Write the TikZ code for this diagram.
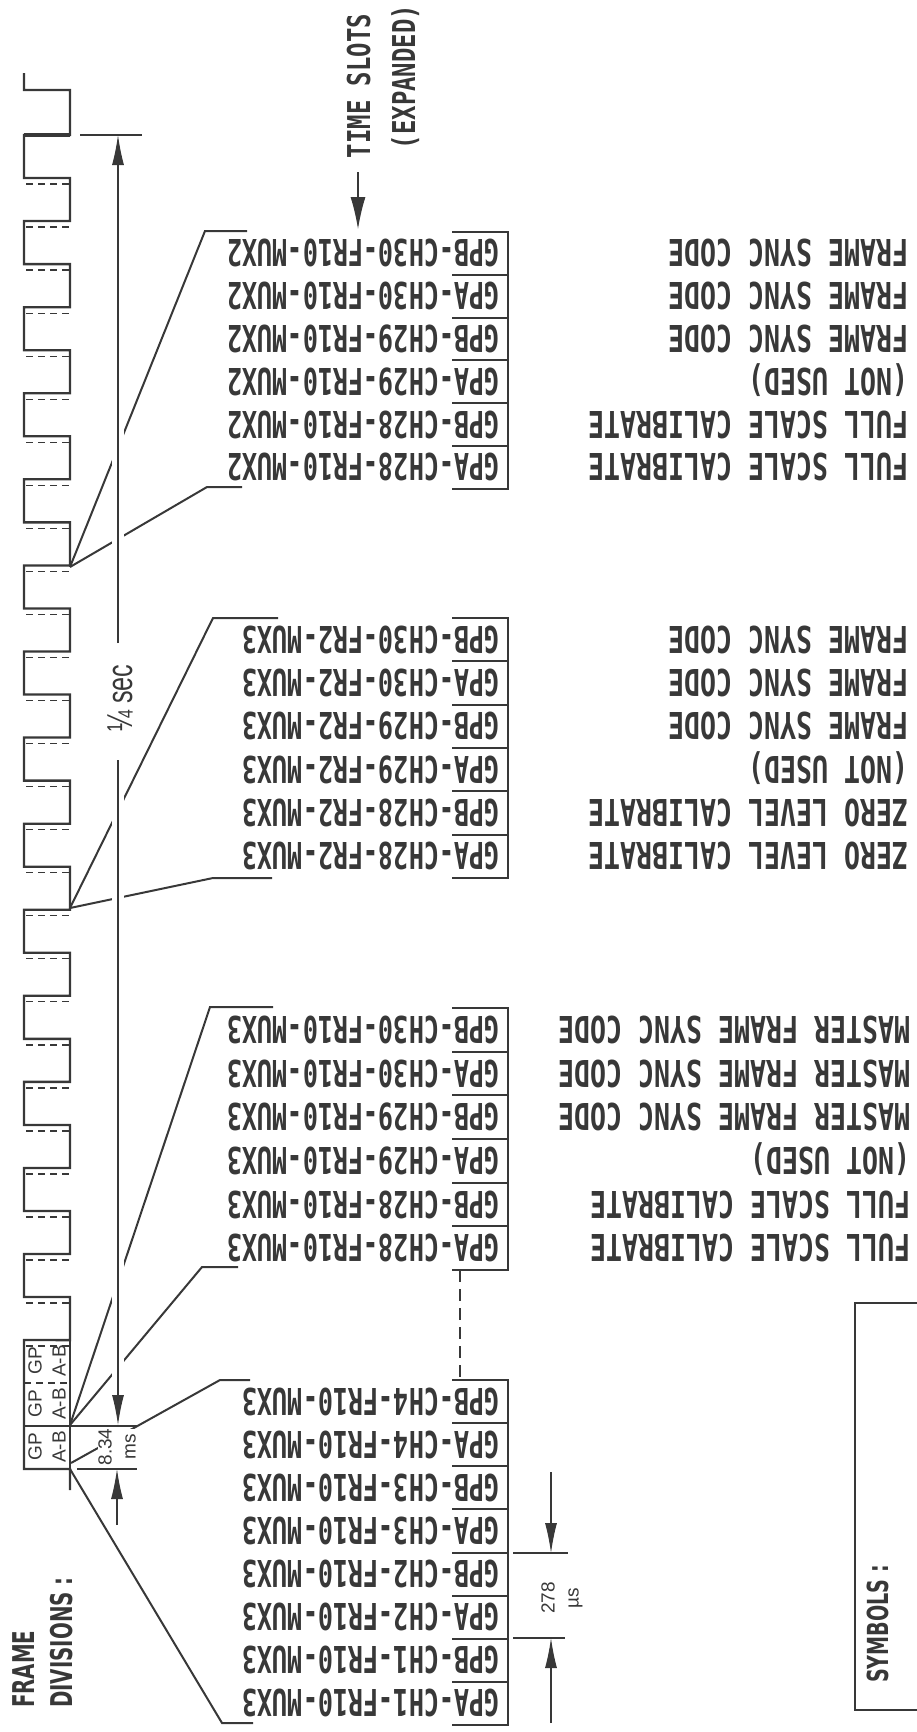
\documentclass[tikz,border=0pt]{standalone}
\usepackage{fontspec}
\usetikzlibrary{arrows.meta,calc}
\newfontfamily\slotf{DejaVu Sans Mono}[FakeStretch=0.68]
\newfontfamily\descf{DejaVu Sans Mono}[FakeStretch=0.72]
\newfontfamily\labf{DejaVu Sans Mono}[FakeStretch=0.76]
\newfontfamily\headf{DejaVu Sans}[FakeStretch=0.66]
\newfontfamily\secf{Liberation Sans}[FakeStretch=0.7]
\newfontfamily\smallf{Liberation Sans}
\definecolor{ink}{HTML}{383838}
\tikzset{
  wave/.style={draw=ink, line width=2.3pt, line join=miter},
  wavedash/.style={draw=ink, line width=1.3pt, dash pattern=on 7pt off 5pt},
  lead/.style={draw=ink, line width=2pt},
  dim/.style={draw=ink, line width=1.1pt},
  dimarrow/.style={dim, -{Latex[length=30pt,width=12pt]}},
  boxline/.style={draw=ink, line width=2pt},
  slot/.style={rotate=180, anchor=base west, inner sep=0pt, text=ink, font=\fontsize{37}{40}\slotf\bfseries},
  desc/.style={rotate=180, anchor=base west, inner sep=0pt, text=ink, font=\fontsize{37}{40}\descf\bfseries},
  vlab/.style={rotate=90, inner sep=0pt, text=ink, font=\fontsize{31.5}{34}\labf\bfseries},
  headlab/.style={rotate=90, anchor=base west, inner sep=0pt, text=ink, font=\fontsize{30}{32}\headf\bfseries},
  smalllab/.style={rotate=90, align=center, inner sep=1pt, text=ink, font=\fontsize{19}{24}\smallf},
}
\begin{document}
\begin{tikzpicture}[x=1pt,y=-1pt]
\useasboundingbox (0,0) rectangle (916,1732);

% ---------------- square wave ----------------
\draw[wave] (24,73) -- (24,90) -- (70,90) -- (70,135)
  \foreach \k [evaluate=\k as \ta using {135+43.04*\k},
               evaluate=\k as \tb using {135+43.04*(\k+1)},
               evaluate=\k as \xk using {24+46*mod(\k,2)}] in {0,...,27}
  { -- (\xk,\ta) -- (\xk,\tb) }
  -- (24,1340) -- (24,1469) -- (70,1469) -- (70,1490);
\draw[wave] (70,1340) -- (70,1469);
\draw[wave] (24,1426) -- (70,1426);
\draw[draw=ink, line width=4.5pt] (24,135) -- (70,135);
\foreach \k in {1,...,28}
  \draw[wavedash] (26,{135+43.04*\k+6}) -- (70,{135+43.04*\k+6});
\draw[wavedash] (24,1383) -- (70,1383);

% GP A-B boxes
\node[smalllab] (gp1) at (47,1447) {GP\\A-B};
\node[smalllab] (gp2) at (47,1404) {GP\\A-B};
\node[smalllab] (gp3) at (47,1361) {GP\\A-B};

% ---------------- junctions and group anchors ----------------
\coordinate (jA) at (70,567);
\coordinate (jC) at (70,908);
\coordinate (jE) at (70,1425);
\coordinate (jG) at (71,1463);
\coordinate (jH) at (70,1469);
\coordinate (g1t) at (205,231);  \coordinate (g1te) at (247,231);
\coordinate (g1b) at (207,487);  \coordinate (g1be) at (242,487);
\coordinate (g2t) at (213,618);  \coordinate (g2te) at (278,618);
\coordinate (g2b) at (213,878);  \coordinate (g2be) at (272,878);
\coordinate (g3t) at (210,1007); \coordinate (g3te) at (273,1007);
\coordinate (g3b) at (202,1267); \coordinate (g3be) at (238,1267);
\coordinate (g4t) at (220,1380); \coordinate (g4te) at (250,1380);
\coordinate (g4b) at (222,1723); \coordinate (g4be) at (253,1723);

% leaders
\draw[lead] (jA) -- (g1t) -- (g1te);
\draw[lead] (jA) -- (g1b) -- (g1be);
\draw[lead] (jC) -- (g2t) -- (g2te);
\draw[lead] (jC) -- (g2b) -- (g2be);
\draw[lead] (jE) -- (g3t) -- (g3te);
\draw[lead] (jE) -- (g3b) -- (g3be);
\draw[lead] (jG) -- (g4t) -- (g4te);
\draw[lead] (jH) -- (g4b) -- (g4be);

% gaps where leaders cross the 1/4 sec line
\draw[white, line width=12pt] (118,170) -- (118,1400);

% ---------------- 1/4 sec dimension ----------------
\coordinate (qtop) at (118,135);
\coordinate (qbot) at (118,1425);
\coordinate (qa) at (118,643);
\coordinate (qb) at (118,760);
\draw[dimarrow] (qa) -- (qtop);
\draw[dimarrow] (qb) -- (qbot);
\node[rotate=90, anchor=base, inner sep=0pt, text=ink, font=\fontsize{36}{40}\secf] (qsec) at (132,698) {¼ sec};
\draw[dim] (80,135) -- (142,135);

% 8.34 ms dimension
\node[smalllab, fill=white, inner sep=0pt] (ms) at (117,1447) {8.34\\ms};
\draw[dim] (70,1426) -- (138,1426);
\draw[dim] (77,1469) -- (137,1469);
\coordinate (mslow) at (117,1525);
\coordinate (mstip) at (117,1469);
\draw[dimarrow] (mslow) -- (mstip);

% ---------------- TIME SLOTS label ----------------
\node[vlab, anchor=base] (ts) at (370,86) {TIME SLOTS};
\node[vlab, anchor=base] (tsx) at (415,77) {(EXPANDED)};
\coordinate (tsa) at (358,172);
\coordinate (tsb) at (358,229);
\draw[dim, -{Latex[length=32pt,width=15pt]}] (tsa) -- (tsb);

% ---------------- slot groups ----------------
% group 1
\draw[boxline] (452,232) -- (508,232) -- (508,489) -- (452,489);
\foreach \i in {1,...,5} \draw[boxline] (452,{232+\i*42.8}) -- (508,{232+\i*42.8});
\foreach \i/\s/\d in {0/GPB-CH30-FR10-MUX2/FRAME SYNC CODE,
                      1/GPA-CH30-FR10-MUX2/FRAME SYNC CODE,
                      2/GPB-CH29-FR10-MUX2/FRAME SYNC CODE,
                      3/GPA-CH29-FR10-MUX2/(NOT USED),
                      4/GPB-CH28-FR10-MUX2/FULL SCALE CALIBRATE,
                      5/GPA-CH28-FR10-MUX2/FULL SCALE CALIBRATE}{
  \node[slot] (a\i) at (500,{232+(\i+0.5)*42.8-13.5}) {\s};
  \node[desc] (ad\i) at (909,{232+(\i+0.5)*42.8-13.5}) {\d};
}
% group 2
\draw[boxline] (452,618) -- (508,618) -- (508,878) -- (452,878);
\foreach \i in {1,...,5} \draw[boxline] (452,{618+\i*43.33}) -- (508,{618+\i*43.33});
\foreach \i/\s/\d in {0/GPB-CH30-FR2-MUX3/FRAME SYNC CODE,
                      1/GPA-CH30-FR2-MUX3/FRAME SYNC CODE,
                      2/GPB-CH29-FR2-MUX3/FRAME SYNC CODE,
                      3/GPA-CH29-FR2-MUX3/(NOT USED),
                      4/GPB-CH28-FR2-MUX3/ZERO LEVEL CALIBRATE,
                      5/GPA-CH28-FR2-MUX3/ZERO LEVEL CALIBRATE}{
  \node[slot] (b\i) at (500,{618+(\i+0.5)*43.33-13.5}) {\s};
  \node[desc] (bd\i) at (909,{618+(\i+0.5)*43.33-13.5}) {\d};
}
% group 3
\draw[boxline] (452,1008) -- (508,1008) -- (508,1270) -- (452,1270);
\foreach \i in {1,...,5} \draw[boxline] (452,{1008+\i*43.67}) -- (508,{1008+\i*43.67});
\foreach \i/\s/\d in {0/GPB-CH30-FR10-MUX3/MASTER FRAME SYNC CODE,
                      1/GPA-CH30-FR10-MUX3/MASTER FRAME SYNC CODE,
                      2/GPB-CH29-FR10-MUX3/MASTER FRAME SYNC CODE,
                      3/GPA-CH29-FR10-MUX3/(NOT USED),
                      4/GPB-CH28-FR10-MUX3/FULL SCALE CALIBRATE,
                      5/GPA-CH28-FR10-MUX3/FULL SCALE CALIBRATE}{
  \node[slot] (c\i) at (500,{1008+(\i+0.5)*43.67-13.5}) {\s};
  \node[desc] (cd\i) at (911,{1008+(\i+0.5)*43.67-13.5}) {\d};
}
% continuation dashes
\coordinate (dc1) at (460,1270);
\coordinate (dc2) at (460,1380);
\draw[draw=ink, line width=1.5pt, dash pattern=on 12pt off 7pt] (dc1) -- (dc2);
% group 4
\draw[boxline] (452,1380) -- (508,1380) -- (508,1725) -- (452,1725);
\foreach \i in {1,...,7} \draw[boxline] (452,{1380+\i*43.125}) -- (508,{1380+\i*43.125});
\foreach \i/\s in {0/GPB-CH4-FR10-MUX3,1/GPA-CH4-FR10-MUX3,2/GPB-CH3-FR10-MUX3,
                   3/GPA-CH3-FR10-MUX3,4/GPB-CH2-FR10-MUX3,5/GPA-CH2-FR10-MUX3,
                   6/GPB-CH1-FR10-MUX3,7/GPA-CH1-FR10-MUX3}{
  \node[slot] (d\i) at (500,{1380+(\i+0.5)*43.125-13.5}) {\s};
}

% 278 us dimension
\draw[dim] (513,1553) -- (568,1553);
\draw[dim] (513,1638) -- (565,1638);
\coordinate (ua) at (551,1472);
\coordinate (ub) at (551,1553);
\coordinate (uc) at (551,1723);
\coordinate (ud) at (551,1638);
\draw[dimarrow] (ua) -- (ub);
\draw[dimarrow] (uc) -- (ud);
\node[smalllab] (us) at (562,1598) {278\\µs};

% ---------------- frame divisions / symbols ----------------
\node[headlab] (fr) at (34,1708) {FRAME};
\node[headlab] (dv) at (72,1708) {DIVISIONS :};
\draw[boxline] (930,1303) -- (855,1303) -- (855,1710) -- (930,1710);
\node[headlab, font=\fontsize{29}{30}\headf\bfseries] (sym) at (888,1683) {SYMBOLS :};
\end{tikzpicture}
\end{document}
